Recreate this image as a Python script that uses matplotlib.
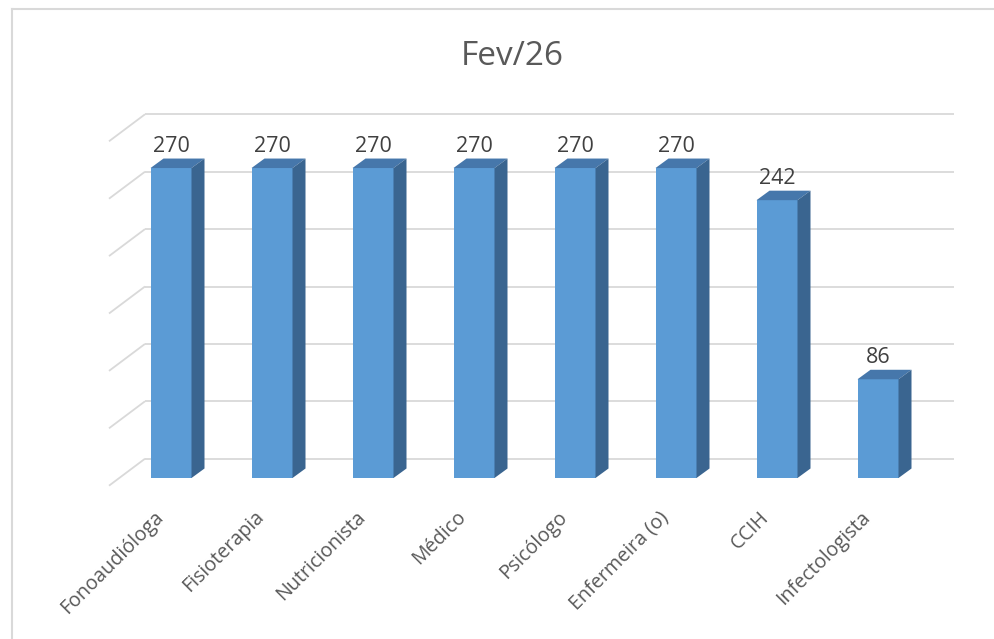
import matplotlib
matplotlib.use("Agg")
import matplotlib.pyplot as plt
from matplotlib.patches import Polygon
from matplotlib.lines import Line2D

# ---- data ----
categories = ["Fonoaudióloga", "Fisioterapia", "Nutricionista", "Médico",
              "Psicólogo", "Enfermeira (o)", "CCIH", "Infectologista"]
values = [270, 270, 270, 270, 270, 270, 242, 86]
grid_values = [0, 50, 100, 150, 200, 250, 300]
title = "Fev/26"

# ---- layout (pixel-based projection constants) ----
W, H = 994, 639
PX_CAT = 101.0      # px per category
PX_VAL = 1.148      # px per value unit
X0_PX = 171.0       # px of first category centre
Y0_PX = 478.0       # px of value 0 (front plane)

FRONT = "#5b9bd5"
TOP = "#4677ab"
SIDE = "#3a6590"
GRID = "#d9d9d9"

plt.rcParams['font.family'] = ['Open Sans', 'DejaVu Sans']

fig = plt.figure(figsize=(W / 100, H / 100), dpi=100)
ax = fig.add_axes([0, 0, 1, 1])
ax.set_xlim(-X0_PX / PX_CAT, (W - X0_PX) / PX_CAT)
ax.set_ylim((Y0_PX - H) / PX_VAL, Y0_PX / PX_VAL)
ax.axis("off")

# back wall gridlines + side wall diagonals
bdy = 19.3 / PX_VAL
wall_left = (145 - X0_PX) / PX_CAT
wall_right = (954 - X0_PX) / PX_CAT
diag_dx = -36 / PX_CAT
diag_dy = -27 / PX_VAL
for g in grid_values:
    y = g + bdy
    ax.plot([wall_left, wall_right], [y, y], color=GRID, lw=1.3, zorder=1,
            solid_capstyle="butt")
    ax.plot([wall_left + diag_dx, wall_left], [y + diag_dy, y], color=GRID,
            lw=1.3, zorder=1, solid_capstyle="butt")

# bars
bw = 41 / PX_CAT
ddx = 13 / PX_CAT
ddy = 9.5 / PX_VAL
xs = list(range(len(categories)))
ax.bar(xs, values, width=bw, color=FRONT, zorder=3, linewidth=0)
for i, v in zip(xs, values):
    l, r = i - bw / 2, i + bw / 2
    ax.add_patch(Polygon([(l, v), (r, v), (r + ddx, v + ddy), (l + ddx, v + ddy)],
                         closed=True, facecolor=TOP, edgecolor="none", zorder=3))
    ax.add_patch(Polygon([(r, 0), (r, v), (r + ddx, v + ddy), (r + ddx, ddy)],
                         closed=True, facecolor=SIDE, edgecolor="none", zorder=3))
    ax.annotate(str(v), (i, v), xytext=(0, 11.9), textcoords="offset points",
                ha="center", va="baseline", fontsize=15.5, color="#404040", zorder=4)

# category labels
for i, c in zip(xs, categories):
    ax.text(i - 0.175, -25.5, c, rotation=45, rotation_mode="anchor",
            ha="right", va="top", fontsize=14.2, color="#595959")

# title
fig.text(512.5 / W, 1 - 65 / H, title, ha="center", va="baseline",
         fontsize=24, color="#595959")

# chart border (left and top visible)
fig.add_artist(Line2D([12 / W, 12 / W], [0, 1 - 9 / H], color="#d9d9d9", lw=1.5))
fig.add_artist(Line2D([12 / W, 1], [1 - 9 / H, 1 - 9 / H], color="#d9d9d9", lw=1.5))

fig.savefig("out.png", dpi=100)
